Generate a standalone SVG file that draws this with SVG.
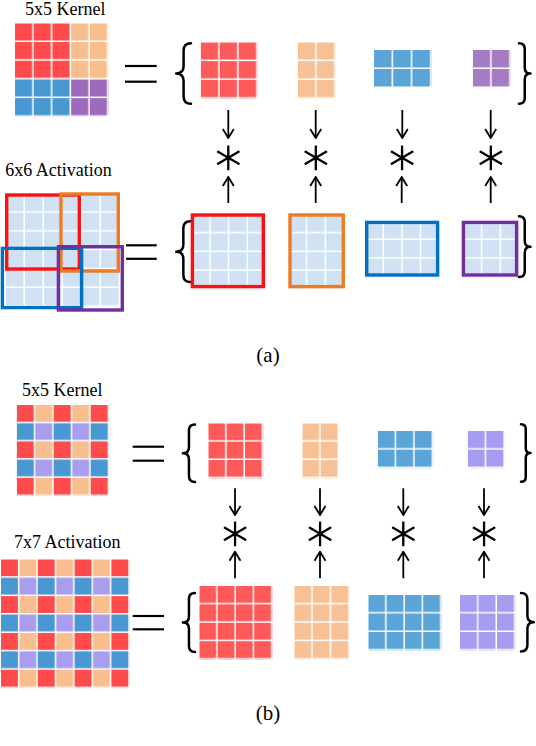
<svg xmlns="http://www.w3.org/2000/svg" width="536" height="746" viewBox="0 0 536 746">
<style>
.lbl{font-family:"Liberation Serif","Times New Roman",serif;font-size:18px;fill:#000;text-anchor:middle}
.cap{font-family:"Liberation Serif","Times New Roman",serif;font-size:21px;fill:#000;text-anchor:middle}
.ast{font-family:"DejaVu Sans",sans-serif;font-size:52px;fill:#000;stroke:#000;stroke-width:1.1;stroke-linejoin:round;text-anchor:middle;font-weight:200}
.eq{stroke:#000;stroke-width:2.2;fill:none}
.brace{fill:none;stroke:#000;stroke-width:2.5;stroke-linecap:round;stroke-linejoin:round}
.arr{stroke:#000;stroke-width:1.8;fill:none;marker-end:url(#ah)}
.box{fill:none;stroke-width:3.4}
</style>
<defs>
<marker id="ah" markerUnits="userSpaceOnUse" markerWidth="11" markerHeight="13" viewBox="0 0 11 13" refX="10" refY="6.5" orient="auto">
<path d="M1,1 L10,6.5 L1,12" fill="none" stroke="#000" stroke-width="1.8"/>
</marker>
<pattern id="kR" width="1" height="1" patternUnits="userSpaceOnUse"><rect width="0.92" height="0.92" fill="#FF4B4B"/></pattern>
<pattern id="kP" width="1" height="1" patternUnits="userSpaceOnUse"><rect width="0.92" height="0.92" fill="#F9BE8E"/></pattern>
<pattern id="kB" width="1" height="1" patternUnits="userSpaceOnUse"><rect width="0.92" height="0.92" fill="#4A98D2"/></pattern>
<pattern id="kV" width="1" height="1" patternUnits="userSpaceOnUse"><rect width="0.92" height="0.92" fill="#9C6BBB"/></pattern>
<pattern id="gR" width="1" height="1" patternUnits="userSpaceOnUse"><rect width="0.92" height="0.92" fill="#FF5A5A"/></pattern>
<pattern id="gP" width="1" height="1" patternUnits="userSpaceOnUse"><rect width="0.92" height="0.92" fill="#F8C195"/></pattern>
<pattern id="gB" width="1" height="1" patternUnits="userSpaceOnUse"><rect width="0.92" height="0.92" fill="#5BA4D8"/></pattern>
<pattern id="gV" width="1" height="1" patternUnits="userSpaceOnUse"><rect width="0.92" height="0.92" fill="#A57BC3"/></pattern>
<pattern id="gL" width="1" height="1" patternUnits="userSpaceOnUse"><rect width="0.92" height="0.92" fill="#A69DF0"/></pattern>
<pattern id="cA" width="1" height="1" patternUnits="userSpaceOnUse"><rect width="0.92" height="0.92" fill="#CFE1F2"/></pattern>
<pattern id="chk" width="2" height="2" patternUnits="userSpaceOnUse">
<rect width="0.92" height="0.92" fill="#FF4B4B"/>
<rect x="1" width="0.92" height="0.92" fill="#F9BE8E"/>
<rect y="1" width="0.92" height="0.92" fill="#4A98D2"/>
<rect x="1" y="1" width="0.92" height="0.92" fill="#A99DF0"/>
</pattern>
</defs>
<rect width="536" height="746" fill="#fff"/>

<!-- ===== (a) ===== -->
<g id="kernel-a">
<text class="lbl" x="65.3" y="15">5x5 Kernel</text>
<g transform="translate(15,23.3) scale(18.7)">
<rect width="3" height="3" fill="url(#kR)"/>
<rect x="3" width="2" height="3" fill="url(#kP)"/>
<rect y="3" width="3" height="2" fill="url(#kB)"/>
<rect x="3" y="3" width="2" height="2" fill="url(#kV)"/>
</g>
</g>
<g id="eq-a1"><line class="eq" x1="125" y1="66" x2="156.7" y2="66"/><line class="eq" x1="125" y1="81.7" x2="156.7" y2="81.7"/></g>
<g id="kgroups-a">
<path class="brace" d="M191,43.2 Q183.6,43.2 183.6,50.6 L183.6,66.1 Q183.6,73.5 176.2,73.5 Q183.6,73.5 183.6,80.9 L183.6,96.4 Q183.6,103.8 191,103.8"/>
<rect width="3" height="3" fill="url(#gR)" transform="translate(200.7,42.3) scale(19,18.8)"/>
<rect width="2" height="3" fill="url(#gP)" transform="translate(297.7,42.3) scale(19,18.8)"/>
<rect width="3" height="2" fill="url(#gB)" transform="translate(374,50) scale(19.2,19)"/>
<rect width="2" height="2" fill="url(#gV)" transform="translate(472.7,50) scale(19,19)"/>
<path class="brace" d="M519,43.2 Q524.75,43.2 524.75,48.95 L524.75,67.75 Q524.75,73.5 530.5,73.5 Q524.75,73.5 524.75,79.25 L524.75,98.05 Q524.75,103.8 519,103.8"/>
</g>

<g id="act-a">
<text class="lbl" x="58.5" y="176">6x6 Activation</text>
<rect width="6" height="6" fill="url(#cA)" transform="translate(6,194) scale(19,18.8)"/>
<rect class="box" x="6.7" y="195" width="72.6" height="74" stroke="#FF1010"/>
<rect class="box" x="61" y="194" width="57.3" height="77" stroke="#EE7B22"/>
<rect class="box" x="2.4" y="248.4" width="79.2" height="59.2" stroke="#0070C0"/>
<rect class="box" x="58.4" y="246.7" width="63.9" height="63.3" stroke="#7030A0"/>
</g>
<g id="eq-a2"><line class="eq" x1="126" y1="245.3" x2="156.7" y2="245.3"/><line class="eq" x1="126" y1="258.8" x2="156.7" y2="258.8"/></g>
<g id="agroups-a">
<path class="brace" d="M190.5,221.2 Q183.35,221.2 183.35,228.35 L183.35,244.5 Q183.35,251.65 176.2,251.65 Q183.35,251.65 183.35,258.8 L183.35,274.95 Q183.35,282.1 190.5,282.1"/>
<rect width="4" height="4" fill="url(#cA)" transform="translate(192.05,214.75) scale(18.7)"/>
<rect class="box" x="192.4" y="215" width="70.9" height="71.6" stroke="#FF1010"/>
<rect width="3" height="4" fill="url(#cA)" transform="translate(288.75,214.75) scale(18.7)"/>
<rect class="box" x="290" y="215" width="53.3" height="71.6" stroke="#EE7B22"/>
<rect width="4" height="3" fill="url(#cA)" transform="translate(365.35,221.35) scale(18.7)"/>
<rect class="box" x="366.7" y="222.4" width="70.9" height="52.6" stroke="#0070C0"/>
<rect width="3" height="3" fill="url(#cA)" transform="translate(463.75,221.35) scale(18.7)"/>
<rect class="box" x="463.4" y="222.4" width="53.2" height="52.6" stroke="#7030A0"/>
<path class="brace" d="M519,216.2 Q524.75,216.2 524.75,221.95 L524.75,240.9 Q524.75,246.65 530.5,246.65 Q524.75,246.65 524.75,252.4 L524.75,271.35 Q524.75,277.1 519,277.1"/>
</g>

<g id="ops-a">
<text class="ast" x="228.3" y="173.7">∗</text>
<text class="ast" x="315.7" y="173.7">∗</text>
<text class="ast" x="402" y="173.7">∗</text>
<text class="ast" x="490.7" y="173.7">∗</text>
</g>

<text class="cap" x="268" y="362">(a)</text>

<!-- ===== (b) ===== -->
<g id="kernel-b">
<text class="lbl" x="62.3" y="396">5x5 Kernel</text>
<rect width="5" height="5" fill="url(#chk)" transform="translate(16.7,405) scale(18.5,18.2)"/>
</g>
<g id="eq-b1"><line class="eq" x1="132.7" y1="446.7" x2="164" y2="446.7"/><line class="eq" x1="132.7" y1="460.7" x2="164" y2="460.7"/></g>
<g id="kgroups-b">
<path class="brace" d="M195,424.5 Q188.95,424.5 188.95,430.55 L188.95,447.25 Q188.95,453.3 182.9,453.3 Q188.95,453.3 188.95,459.35 L188.95,476.05 Q188.95,482.1 195,482.1"/>
<rect width="3" height="3" fill="url(#gR)" transform="translate(208.3,423.3) scale(18.33)"/>
<rect width="2" height="3" fill="url(#gP)" transform="translate(302.3,423.3) scale(18.33)"/>
<rect width="3" height="2" fill="url(#gB)" transform="translate(377.7,431) scale(18.5,18.6)"/>
<rect width="2" height="2" fill="url(#gL)" transform="translate(467.7,431) scale(18.6)"/>
<path class="brace" d="M521,424.2 Q525.75,424.2 525.75,428.95 L525.75,448.25 Q525.75,453 530.5,453 Q525.75,453 525.75,457.75 L525.75,477.05 Q525.75,481.8 521,481.8"/>
</g>

<g id="act-b">
<text class="lbl" x="67.2" y="548">7x7 Activation</text>
<rect width="7" height="7" fill="url(#chk)" transform="translate(1,559.3) scale(18.4)"/>
</g>
<g id="eq-b2"><line class="eq" x1="132.7" y1="616" x2="164" y2="616"/><line class="eq" x1="132.7" y1="629.3" x2="164" y2="629.3"/></g>
<g id="agroups-b">
<path class="brace" d="M195,592.9 Q188.95,592.9 188.95,598.95 L188.95,616.45 Q188.95,622.5 182.9,622.5 Q188.95,622.5 188.95,628.55 L188.95,646.05 Q188.95,652.1 195,652.1"/>
<rect width="4" height="4" fill="url(#gR)" transform="translate(199.3,586) scale(18.3,18.4)"/>
<rect width="3" height="4" fill="url(#gP)" transform="translate(294.3,586) scale(18.5,18.4)"/>
<rect width="4" height="3" fill="url(#gB)" transform="translate(368.3,595) scale(18.3,18.5)"/>
<rect width="3" height="3" fill="url(#gL)" transform="translate(460,595) scale(18.5)"/>
<path class="brace" d="M521,592.9 Q527.4,592.9 527.4,599.3 L527.4,615.8 Q527.4,622.2 533.8,622.2 Q527.4,622.2 527.4,628.6 L527.4,645.1 Q527.4,651.5 521,651.5"/>
</g>

<g id="ops-b">
<text class="ast" x="235" y="549.7">∗</text>
<text class="ast" x="320" y="549.7">∗</text>
<text class="ast" x="403.3" y="549.7">∗</text>
<text class="ast" x="484" y="549.7">∗</text>
</g>

<text class="cap" x="268" y="720">(b)</text>

<g id="connectors">
<line class="arr" x1="228.3" y1="110" x2="228.3" y2="138"/>
<line class="arr" x1="315.7" y1="110" x2="315.7" y2="138"/>
<line class="arr" x1="402.3" y1="110" x2="402.3" y2="138"/>
<line class="arr" x1="490.7" y1="110" x2="490.7" y2="138"/>
<line class="arr" x1="228.3" y1="203" x2="228.3" y2="177"/>
<line class="arr" x1="315.7" y1="203" x2="315.7" y2="177"/>
<line class="arr" x1="401.7" y1="203" x2="401.7" y2="177"/>
<line class="arr" x1="490.7" y1="203" x2="490.7" y2="177"/>
<line class="arr" x1="235" y1="488.3" x2="235" y2="515"/>
<line class="arr" x1="320" y1="488.3" x2="320" y2="515"/>
<line class="arr" x1="403.3" y1="488.3" x2="403.3" y2="515"/>
<line class="arr" x1="484" y1="488.3" x2="484" y2="515"/>
<line class="arr" x1="235" y1="578.3" x2="235" y2="551.7"/>
<line class="arr" x1="320" y1="578.3" x2="320" y2="551.7"/>
<line class="arr" x1="403.3" y1="578.3" x2="403.3" y2="551.7"/>
<line class="arr" x1="484" y1="578.3" x2="484" y2="551.7"/>
</g>
</svg>
